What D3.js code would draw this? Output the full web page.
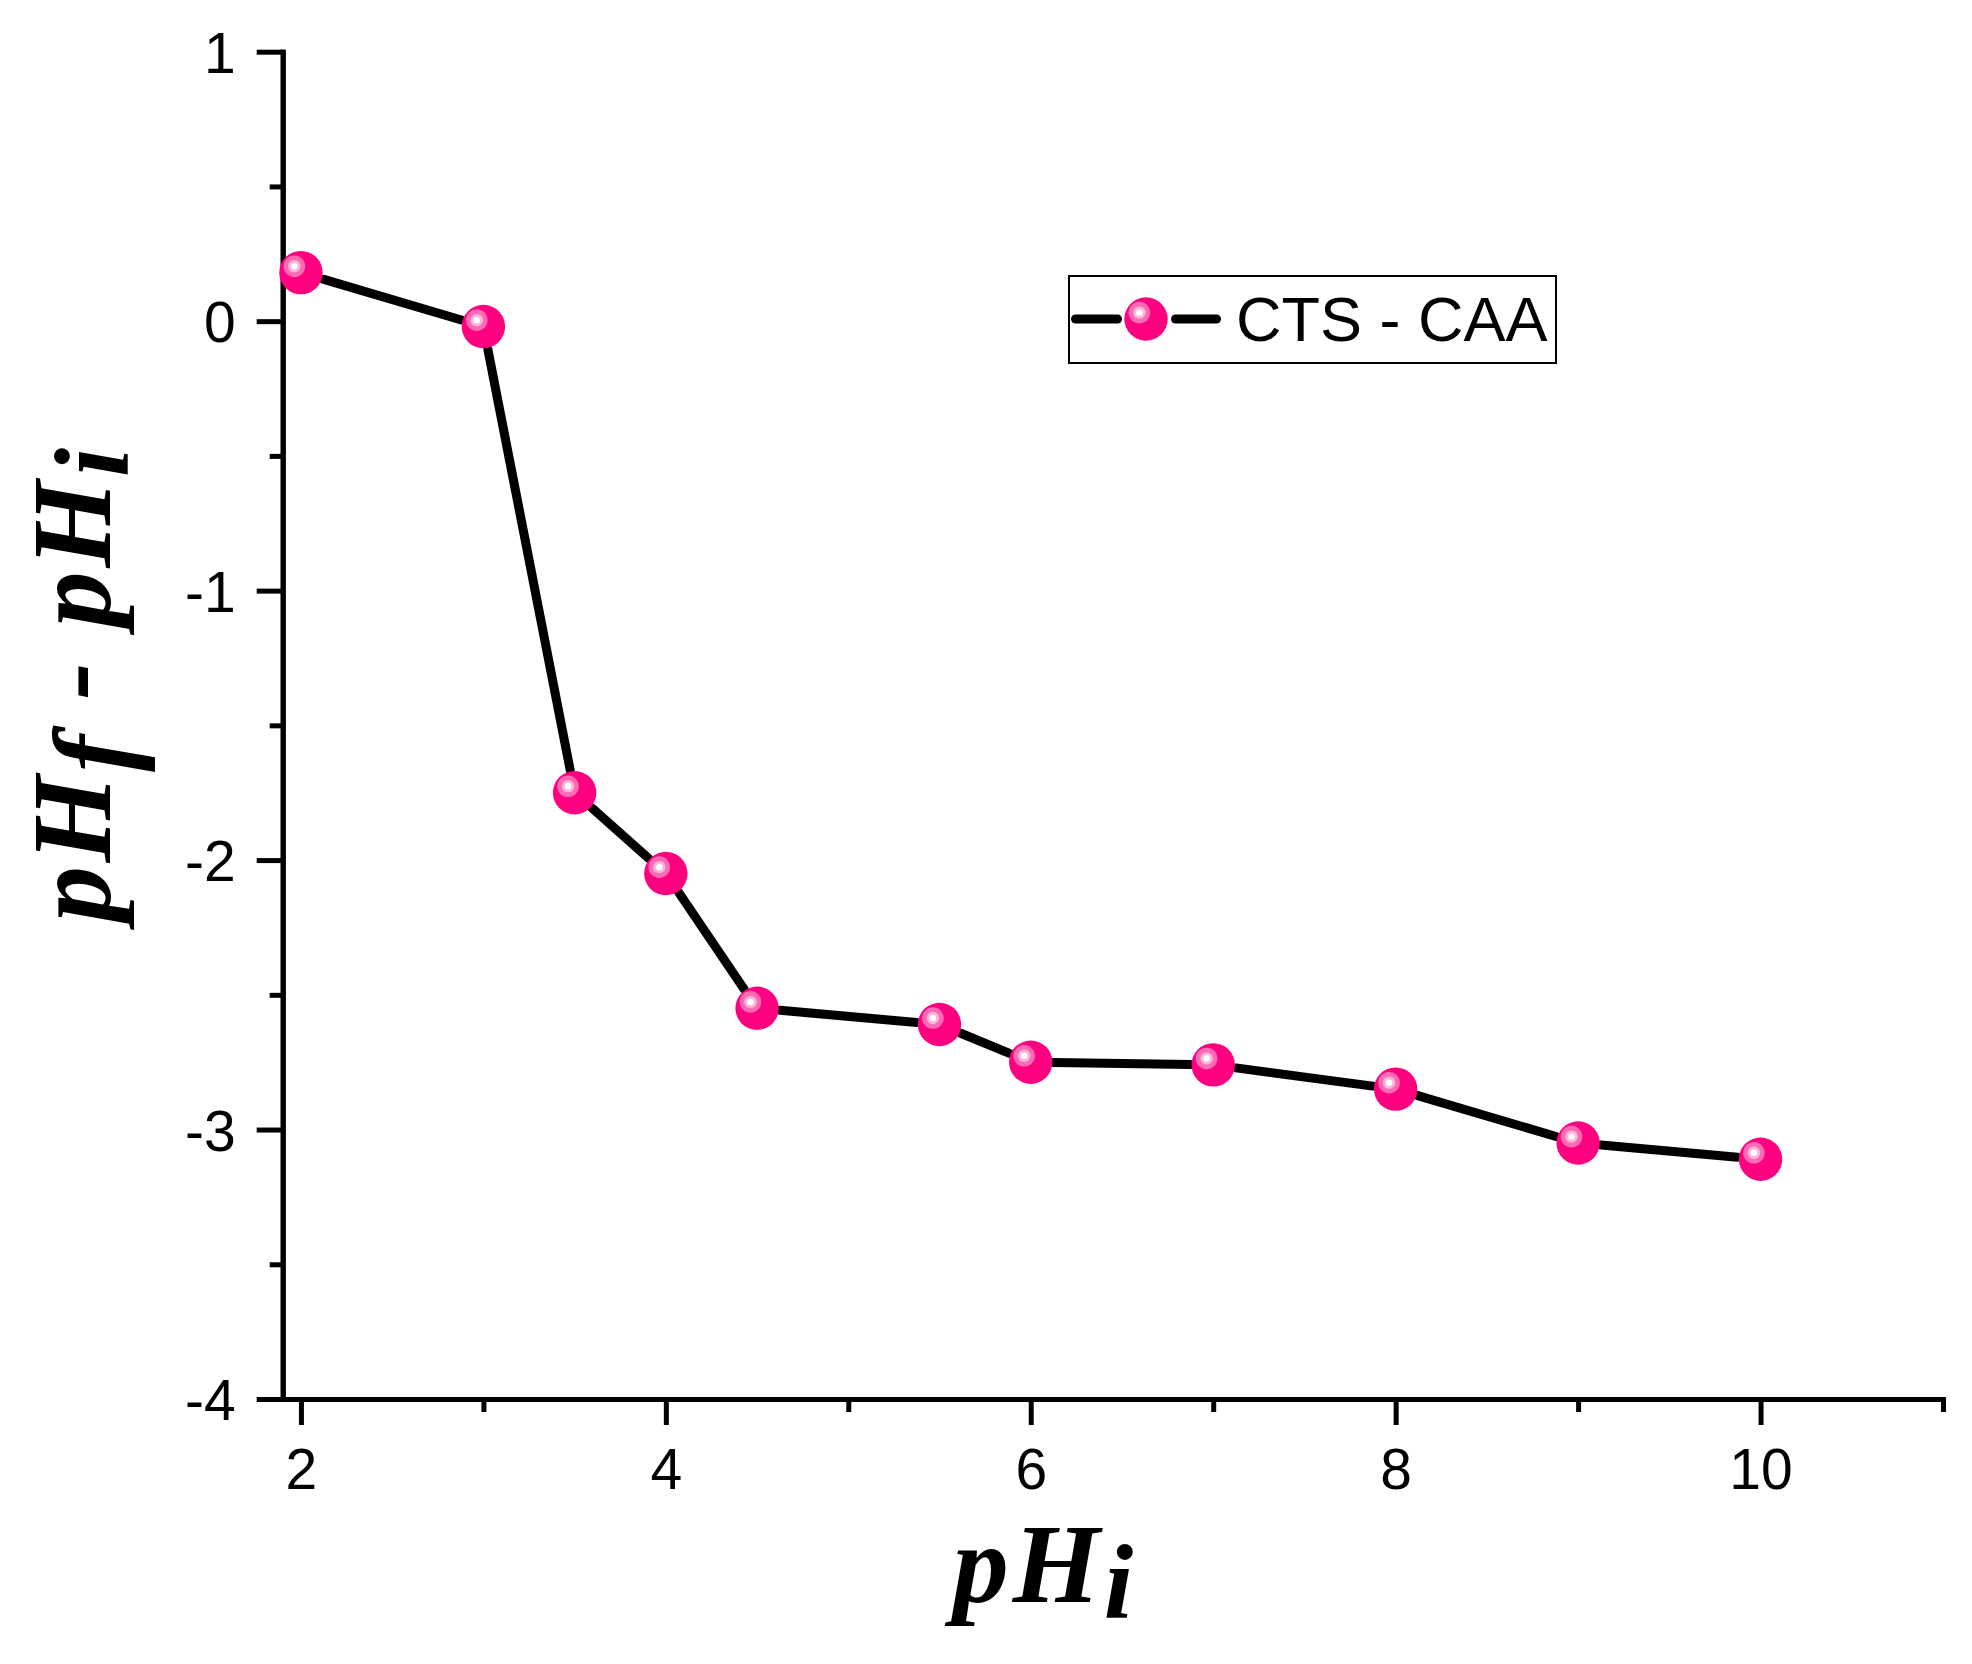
<!DOCTYPE html>
<html>
<head>
<meta charset="utf-8">
<script src="https://cdn.jsdelivr.net/npm/d3@7"></script>
<style>
  html, body { margin: 0; padding: 0; background: #fff; }
  svg { display: block; }
</style>
</head>
<body>
<svg id="chart" width="1972" height="1664"></svg>
<script>
// ---- data ----
const phInitial = [2, 3, 3.5, 4, 4.5, 5.5, 6, 7, 8, 9, 10];
const phDiff = [0.18, -0.02, -1.75, -2.05, -2.55, -2.61, -2.75, -2.76, -2.85, -3.05, -3.11];
const seriesName = "CTS - CAA";
const xMajorTicks = [2, 4, 6, 8, 10];
const xMinorTicks = [3, 5, 7, 9, 11];
const yMajorTicks = [-4, -3, -2, -1, 0, 1];
const yMinorTicks = [-3.5, -2.5, -1.5, -0.5, 0.5];

const svg = d3.select("#chart");
svg.append("rect").attr("width", 1972).attr("height", 1664).attr("fill", "#fff");

const x = d3.scaleLinear().domain([1.9, 11]).range([282.7, 1943]);
const y = d3.scaleLinear().domain([-4, 1]).range([1399, 51.7]);

const AX = 5;
const LW = 9;
const tickFont = "'Liberation Sans', Arial, sans-serif";

function styleAxis(g) {
  g.select(".domain").attr("stroke", "#000").attr("stroke-width", AX).attr("stroke-linecap", "square");
  g.selectAll(".tick line").attr("stroke", "#000").attr("stroke-width", AX);
  g.selectAll(".tick text").attr("fill", "#000").attr("font-family", tickFont).attr("font-size", 57);
}

// x axis minor
svg.append("g").attr("transform", `translate(0,${y(-4)})`)
  .call(d3.axisBottom(x).tickValues(xMinorTicks).tickSize(13).tickSizeOuter(0).tickFormat(""))
  .call(styleAxis);
// x axis major
const gx = svg.append("g").attr("transform", `translate(0,${y(-4)})`)
  .call(d3.axisBottom(x).tickValues(xMajorTicks).tickSize(26).tickSizeOuter(0).tickPadding(0).tickFormat(d => String(d)))
  .call(styleAxis);
gx.selectAll(".tick text").attr("dy", null).attr("y", 90);

// y axis minor
svg.append("g").attr("transform", `translate(${x(1.9)},0)`)
  .call(d3.axisLeft(y).tickValues(yMinorTicks).tickSize(13).tickSizeOuter(0).tickFormat(""))
  .call(styleAxis);
// y axis major
const gy = svg.append("g").attr("transform", `translate(${x(1.9)},0)`)
  .call(d3.axisLeft(y).tickValues(yMajorTicks).tickSize(26).tickSizeOuter(0).tickPadding(21).tickFormat(d => String(d)))
  .call(styleAxis);
gy.selectAll(".tick text").attr("dy", "0.36em");

// ---- line with gaps around markers ----
const pts = phInitial.map((v, i) => [x(v), y(phDiff[i])]);
const GAP = 23;
const segs = [];
for (let i = 0; i < pts.length - 1; i++) {
  const [x1, y1] = pts[i], [x2, y2] = pts[i + 1];
  const dx = x2 - x1, dy = y2 - y1, L = Math.hypot(dx, dy);
  if (L > 2 * GAP) {
    const ux = dx / L, uy = dy / L;
    segs.push([[x1 + ux * GAP, y1 + uy * GAP], [x2 - ux * GAP, y2 - uy * GAP]]);
  }
}
const lineGen = d3.line();
svg.append("g").selectAll("path").data(segs).join("path")
  .attr("d", d => lineGen(d))
  .attr("fill", "none").attr("stroke", "#000").attr("stroke-width", LW).attr("stroke-linecap", "round");

// ---- markers ----
function marker(g) {
  g.append("circle").attr("r", 21.7).attr("fill", "#FF0080");
  g.append("circle").attr("cx", -6.6).attr("cy", -6.4).attr("r", 10.8).attr("fill", "#FF6AB5");
  g.append("circle").attr("cx", -6.6).attr("cy", -6.4).attr("r", 6.2).attr("fill", "#FFB6DB");
  g.append("circle").attr("cx", -6.6).attr("cy", -6.4).attr("r", 3.2).attr("fill", "#fff");
}
svg.append("g").selectAll("g").data(pts).join("g")
  .attr("transform", d => `translate(${d[0]},${d[1]})`)
  .each(function () { marker(d3.select(this)); });

// ---- legend ----
const lg = svg.append("g");
lg.append("rect").attr("x", 1069).attr("y", 276).attr("width", 487).attr("height", 87)
  .attr("fill", "#fff").attr("stroke", "#000").attr("stroke-width", 2);
lg.append("line").attr("x1", 1075.5).attr("x2", 1117.5).attr("y1", 319).attr("y2", 319)
  .attr("stroke", "#000").attr("stroke-width", LW).attr("stroke-linecap", "round");
lg.append("line").attr("x1", 1175.5).attr("x2", 1216.5).attr("y1", 319).attr("y2", 319)
  .attr("stroke", "#000").attr("stroke-width", LW).attr("stroke-linecap", "round");
lg.append("g").attr("transform", "translate(1146,319)").call(marker);
lg.append("text").attr("x", 1236).attr("y", 341).text(seriesName)
  .attr("font-family", tickFont).attr("font-size", 63).attr("fill", "#000");

// ---- axis titles ----
const titleFont = "'Liberation Serif', 'Times New Roman', serif";
const xt = svg.append("text").attr("x", 1045).attr("y", 1602)
  .attr("text-anchor", "middle").attr("font-family", titleFont)
  .attr("font-size", 112).attr("font-weight", "bold").attr("font-style", "italic")
  .attr("letter-spacing", 4);
xt.append("tspan").text("pH");
xt.append("tspan").attr("dy", 16).attr("font-size", 106).text("i");

const yt = svg.append("text").attr("transform", "translate(110,922) rotate(-90)")
  .attr("text-anchor", "start").attr("font-family", titleFont)
  .attr("font-size", 112).attr("font-weight", "bold").attr("font-style", "italic")
  .attr("letter-spacing", 3.5);
yt.append("tspan").text("pH");
yt.append("tspan").attr("dy", 21).text("f");
yt.append("tspan").attr("dy", -21).text(" - pH");
yt.append("tspan").attr("dy", 18).attr("font-size", 106).text("i");
</script>
</body>
</html>
